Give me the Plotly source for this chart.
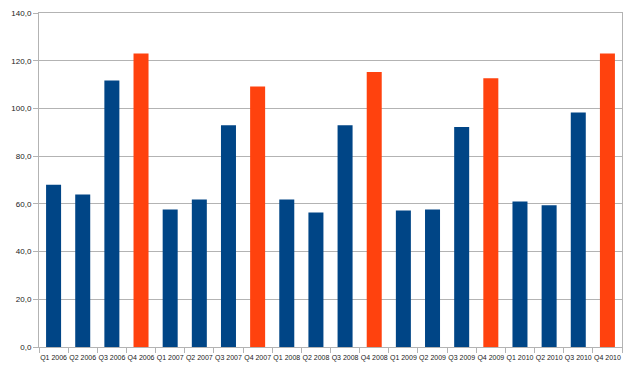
import plotly.graph_objects as go

quarters = ["Q1 2006", "Q2 2006", "Q3 2006", "Q4 2006",
            "Q1 2007", "Q2 2007", "Q3 2007", "Q4 2007",
            "Q1 2008", "Q2 2008", "Q3 2008", "Q4 2008",
            "Q1 2009", "Q2 2009", "Q3 2009", "Q4 2009",
            "Q1 2010", "Q2 2010", "Q3 2010", "Q4 2010"]
values = [68.0, 63.9, 111.7, 123.0,
          57.6, 61.8, 93.0, 109.2,
          61.8, 56.4, 93.0, 115.3,
          57.2, 57.6, 92.2, 112.6,
          61.0, 59.4, 98.3, 123.0]

blue = "#004586"
orange = "#ff420e"
colors = [orange if q.startswith("Q4") else blue for q in quarters]

fig = go.Figure(go.Bar(x=quarters, y=values, marker=dict(color=colors, line=dict(width=0))))

fig.update_layout(
    width=635, height=373,
    margin=dict(l=39, r=13, t=13, b=26, autoexpand=False),
    paper_bgcolor="white", plot_bgcolor="white",
    bargap=0.485,
    separators=", ",
    showlegend=False,
    font=dict(family="Liberation Sans, Arial, sans-serif", size=8, color="#222222"),
)
fig.update_xaxes(
    type="category", tickangle=0, automargin=False,
    tickfont=dict(size=7),
    showline=True, linecolor="#b3b3b3", linewidth=1, mirror=True,
    ticks="outside", tickson="boundaries", ticklen=5, tickcolor="#b3b3b3",
    ticklabelstandoff=4,
    showgrid=False,
)
fig.update_yaxes(
    range=[0, 140], dtick=20, tickformat=".1f", automargin=False,
    showline=True, linecolor="#b3b3b3", linewidth=1, mirror=True,
    ticks="outside", ticklen=5, tickcolor="#b3b3b3",
    showgrid=True, gridcolor="#b3b3b3", gridwidth=1,
    zeroline=False,
)

fig.write_html("out.html", config={"displayModeBar": False},
               post_script="document.body.style.margin='0';document.body.style.overflow='hidden';")
